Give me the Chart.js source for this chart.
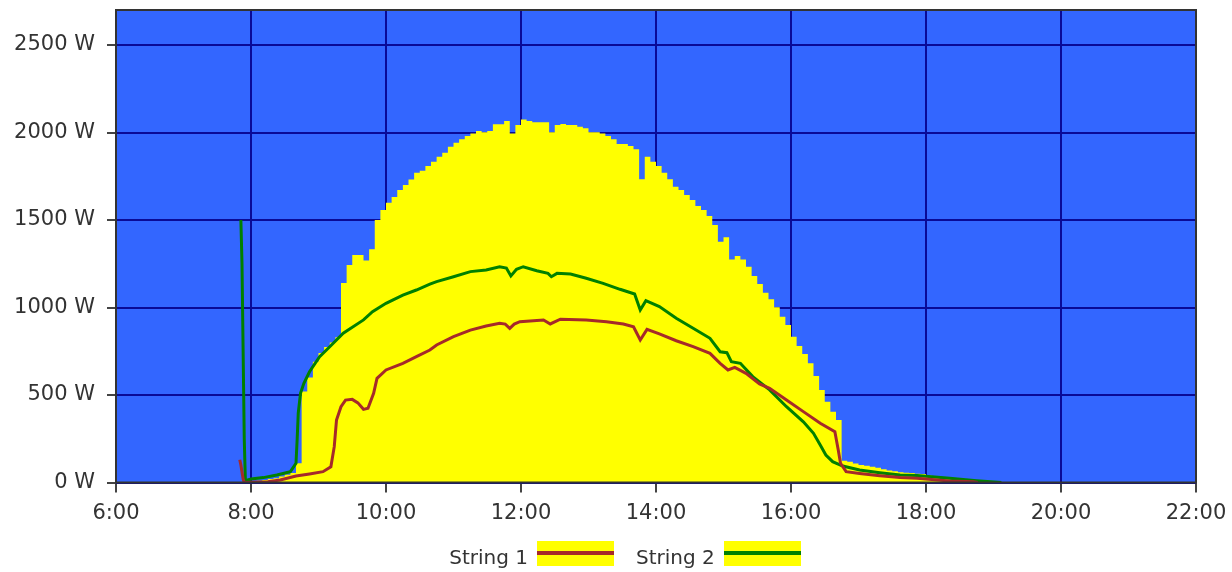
<!DOCTYPE html>
<html>
<head>
<meta charset="utf-8">
<script src="https://cdn.jsdelivr.net/npm/chart.js@4/dist/chart.umd.min.js"></script>
<style>
  body { margin: 0; background: #fff; }
  #wrap { position: relative; width: 1232px; height: 572px; }
  #legend {
    position: absolute; left: 0; width: 1250px; top: 541px;
    display: flex; justify-content: center; align-items: center;
    font: 20px 'DejaVu Sans', Verdana, sans-serif; color: #333;
  }
  .item { display: flex; align-items: center; margin: 0 11px; }
  .swatch { position: relative; width: 77px; height: 25px; background: #ffff00; margin-left: 9px; }
  .swatch i { position: absolute; left: 0; right: 0; top: 10px; height: 4px; }
  .item span { position: relative; top: 3px; }
</style>
</head>
<body>
<div id="wrap">
  <canvas id="chart" width="1232" height="572"></canvas>
  <div id="legend"></div>
</div>
<script>
// total output, one value per 5 minute slot (slot start time)
const totalTimes = [
  "8:00", "8:05", "8:10", "8:15", "8:20", "8:25", "8:30", "8:35", "8:40", "8:45", "8:50", "8:55",
  "9:00", "9:05", "9:10", "9:15", "9:20", "9:25", "9:30", "9:35", "9:40", "9:45", "9:50", "9:55",
  "10:00", "10:05", "10:10", "10:15", "10:20", "10:25", "10:30", "10:35", "10:40", "10:45", "10:50", "10:55",
  "11:00", "11:05", "11:10", "11:15", "11:20", "11:25", "11:30", "11:35", "11:40", "11:45", "11:50", "11:55",
  "12:00", "12:05", "12:10", "12:15", "12:20", "12:25", "12:30", "12:35", "12:40", "12:45", "12:50", "12:55",
  "13:00", "13:05", "13:10", "13:15", "13:20", "13:25", "13:30", "13:35", "13:40", "13:45", "13:50", "13:55",
  "14:00", "14:05", "14:10", "14:15", "14:20", "14:25", "14:30", "14:35", "14:40", "14:45", "14:50", "14:55",
  "15:00", "15:05", "15:10", "15:15", "15:20", "15:25", "15:30", "15:35", "15:40", "15:45", "15:50", "15:55",
  "16:00", "16:05", "16:10", "16:15", "16:20", "16:25", "16:30", "16:35", "16:40", "16:45", "16:50", "16:55",
  "17:00", "17:05", "17:10", "17:15", "17:20", "17:25", "17:30", "17:35", "17:40", "17:45", "17:50", "17:55",
  "18:00", "18:05", "18:10", "18:15", "18:20", "18:25", "18:30", "18:35", "18:40", "18:45", "18:50", "18:55",
  "19:00"
];
const totalWatts = [
  5, 10, 15, 20, 25, 35, 45, 55, 110, 520, 600, 690,
  740, 775, 800, 830, 1140, 1243, 1300, 1300, 1268, 1333, 1500, 1557,
  1598, 1632, 1671, 1700, 1732, 1770, 1782, 1809, 1833, 1862, 1885, 1919,
  1942, 1961, 1980, 1995, 2009, 2001, 2009, 2047, 2047, 2066, 1995, 2043,
  2075, 2066, 2058, 2058, 2058, 2001, 2043, 2049, 2043, 2043, 2033, 2024,
  2001, 2001, 1995, 1980, 1961, 1934, 1934, 1923, 1904, 1733, 1862, 1833,
  1809, 1770, 1733, 1690, 1671, 1643, 1614, 1580, 1557, 1523, 1471, 1376,
  1401, 1275, 1294, 1275, 1233, 1180, 1134, 1085, 1047, 1001, 947, 900,
  833, 780, 734, 681, 609, 529, 462, 405, 357, 125, 118, 108,
  100, 96, 90, 85, 76, 68, 65, 58, 56, 54, 50, 48,
  42, 32, 28, 22, 18, 14, 10, 8, 6, 4, 3, 2,
  0
];

const s1Times = [
  "7:50", "7:51", "7:52", "7:53", "7:54", "8:00", "8:15", "8:26", "8:40", "8:52", "9:04", "9:11",
  "9:14", "9:16", "9:20", "9:24", "9:30", "9:35", "9:40", "9:44", "9:49", "9:52", "10:00", "10:15",
  "10:27", "10:39", "10:45", "11:00", "11:15", "11:29", "11:41", "11:46", "11:50", "11:54", "11:59", "12:20",
  "12:26", "12:35", "12:58", "13:16", "13:31", "13:40", "13:46", "13:52", "14:03", "14:18", "14:33", "14:48",
  "14:57", "15:04", "15:10", "15:20", "15:32", "15:41", "15:56", "16:11", "16:26", "16:39", "16:42", "16:44",
  "16:49", "17:01", "17:19", "17:37", "17:52", "18:21", "18:42", "18:46"
];
const s1Watts = [
  130, 100, 60, 20, 0, 2, 5, 14, 37, 49, 62, 90,
  205, 357, 433, 471, 475, 455, 418, 424, 510, 595, 643, 681,
  719, 757, 786, 833, 871, 894, 910, 905, 881, 905, 919, 929,
  906, 933, 929, 919, 906, 890, 814, 875, 849, 810, 776, 738,
  681, 643, 658, 624, 563, 538, 471, 405, 338, 290, 186, 110,
  62, 52, 39, 28, 24, 9, 5, 0
];

const s2Times = [
  "7:51", "7:52", "7:53", "7:54", "7:55", "8:00", "8:11", "8:23", "8:35", "8:40", "8:41", "8:42",
  "8:44", "8:47", "8:52", "9:01", "9:10", "9:22", "9:40", "9:48", "10:00", "10:15", "10:27", "10:39",
  "10:45", "11:00", "11:15", "11:29", "11:41", "11:47", "11:51", "11:56", "12:02", "12:14", "12:24", "12:27",
  "12:32", "12:44", "12:58", "13:13", "13:28", "13:41", "13:46", "13:51", "14:03", "14:18", "14:33", "14:48",
  "14:57", "15:03", "15:07", "15:15", "15:26", "15:41", "15:56", "16:11", "16:20", "16:26", "16:31", "16:37",
  "16:46", "17:01", "17:19", "17:37", "17:52", "18:21", "18:45", "19:07"
];
const s2Watts = [
  1500, 1250, 750, 250, 10, 20, 28, 43, 62, 110, 243, 397,
  510, 567, 633, 719, 776, 853, 929, 976, 1024, 1071, 1100, 1134,
  1148, 1176, 1205, 1214, 1233, 1225, 1180, 1218, 1233, 1210, 1195, 1176,
  1195, 1191, 1167, 1138, 1104, 1077, 986, 1039, 1005, 938, 881, 824,
  747, 742, 690, 681, 605, 529, 433, 347, 281, 214, 157, 119,
  94, 71, 56, 43, 40, 24, 10, 0
];

const seriesLabels = ["String 1", "String 2"];
const xTicksFrom = 6, xTicksTo = 22, xTickStep = 2;
const yMax = 2700;
const yTicks = [0, 500, 1000, 1500, 2000, 2500];

function toHours(s) {
  const [h, m] = s.split(":").map(Number);
  return h + m / 60;
}

function toPoints(times, watts) {
  return times.map((t, i) => ({ x: toHours(t), y: watts[i] }));
}

const LINE_COLORS = ["#a52a2a", "#008000"];

const plotBackground = {
  id: "plotBackground",
  beforeDraw(chart) {
    const { ctx, chartArea: a } = chart;
    ctx.save();
    ctx.fillStyle = "#3366ff";
    ctx.fillRect(a.left, a.top, a.right - a.left, a.bottom - a.top);
    ctx.restore();
  },
  afterDatasetsDraw(chart) {
    const { ctx, chartArea: a } = chart;
    ctx.save();
    ctx.strokeStyle = "#333";
    ctx.lineWidth = 2;
    ctx.strokeRect(a.left, a.top, a.right - a.left, a.bottom - a.top);
    ctx.restore();
  },
};

// legend is plain html: label text first, then a yellow swatch with the line through it
const htmlLegend = {
  id: "htmlLegend",
  afterUpdate(chart) {
    const box = document.getElementById("legend");
    box.innerHTML = "";
    chart.data.datasets.slice(0, 2).forEach((ds) => {
      const item = document.createElement("div");
      item.className = "item";
      const label = document.createElement("span");
      label.textContent = ds.label;
      const swatch = document.createElement("div");
      swatch.className = "swatch";
      const bar = document.createElement("i");
      bar.style.background = ds.borderColor;
      swatch.appendChild(bar);
      item.appendChild(label);
      item.appendChild(swatch);
      box.appendChild(item);
    });
  },
};

Chart.defaults.font.family = "'DejaVu Sans', Verdana, sans-serif";
Chart.defaults.color = "#333";

const gridOpts = {
  color: "#0a0a96",
  lineWidth: 2,
  tickColor: "#444",
  tickWidth: 2,
};

new Chart(document.getElementById("chart"), {
  type: "line",
  data: {
    datasets: [
      {
        label: seriesLabels[0],
        data: toPoints(s1Times, s1Watts),
        borderColor: LINE_COLORS[0],
        borderWidth: 3,
        pointRadius: 0,
        fill: false,
      },
      {
        label: seriesLabels[1],
        data: toPoints(s2Times, s2Watts),
        borderColor: LINE_COLORS[1],
        borderWidth: 3,
        pointRadius: 0,
        fill: false,
      },
      {
        label: "Total",
        data: toPoints(totalTimes, totalWatts),
        stepped: true,
        fill: "origin",
        backgroundColor: "#ffff00",
        borderColor: "rgba(0,0,0,0)",
        borderWidth: 0,
        pointRadius: 0,
      },
    ],
  },
  options: {
    responsive: false,
    animation: false,
    layout: { padding: { left: 0, right: 36, top: 10, bottom: 37 } },
    scales: {
      x: {
        type: "linear",
        min: xTicksFrom,
        max: xTicksTo,
        ticks: {
          stepSize: xTickStep,
          autoSkip: false,
          maxRotation: 0,
          padding: 8,
          font: { size: 21 },
          callback: (v) => v + ":00",
        },
        grid: { ...gridOpts, tickLength: 10 },
        border: { display: false },
        afterFit(scale) {
          scale.height = 52.5;
          scale.paddingLeft = 0;
          scale.paddingRight = 0;
        },
      },
      y: {
        min: 0,
        max: yMax,
        ticks: {
          padding: 12,
          font: { size: 21 },
          callback: (v) => v + " W",
        },
        grid: { ...gridOpts, tickLength: 9 },
        border: { display: false },
        afterBuildTicks(scale) {
          scale.ticks = yTicks.map((v) => ({ value: v }));
        },
        afterFit(scale) {
          scale.width = 116;
          scale.paddingTop = 0;
          scale.paddingBottom = 0;
        },
      },
    },
    plugins: {
      tooltip: { enabled: false },
      legend: { display: false },
    },
  },
  plugins: [plotBackground, htmlLegend],
});
</script>
</body>
</html>
